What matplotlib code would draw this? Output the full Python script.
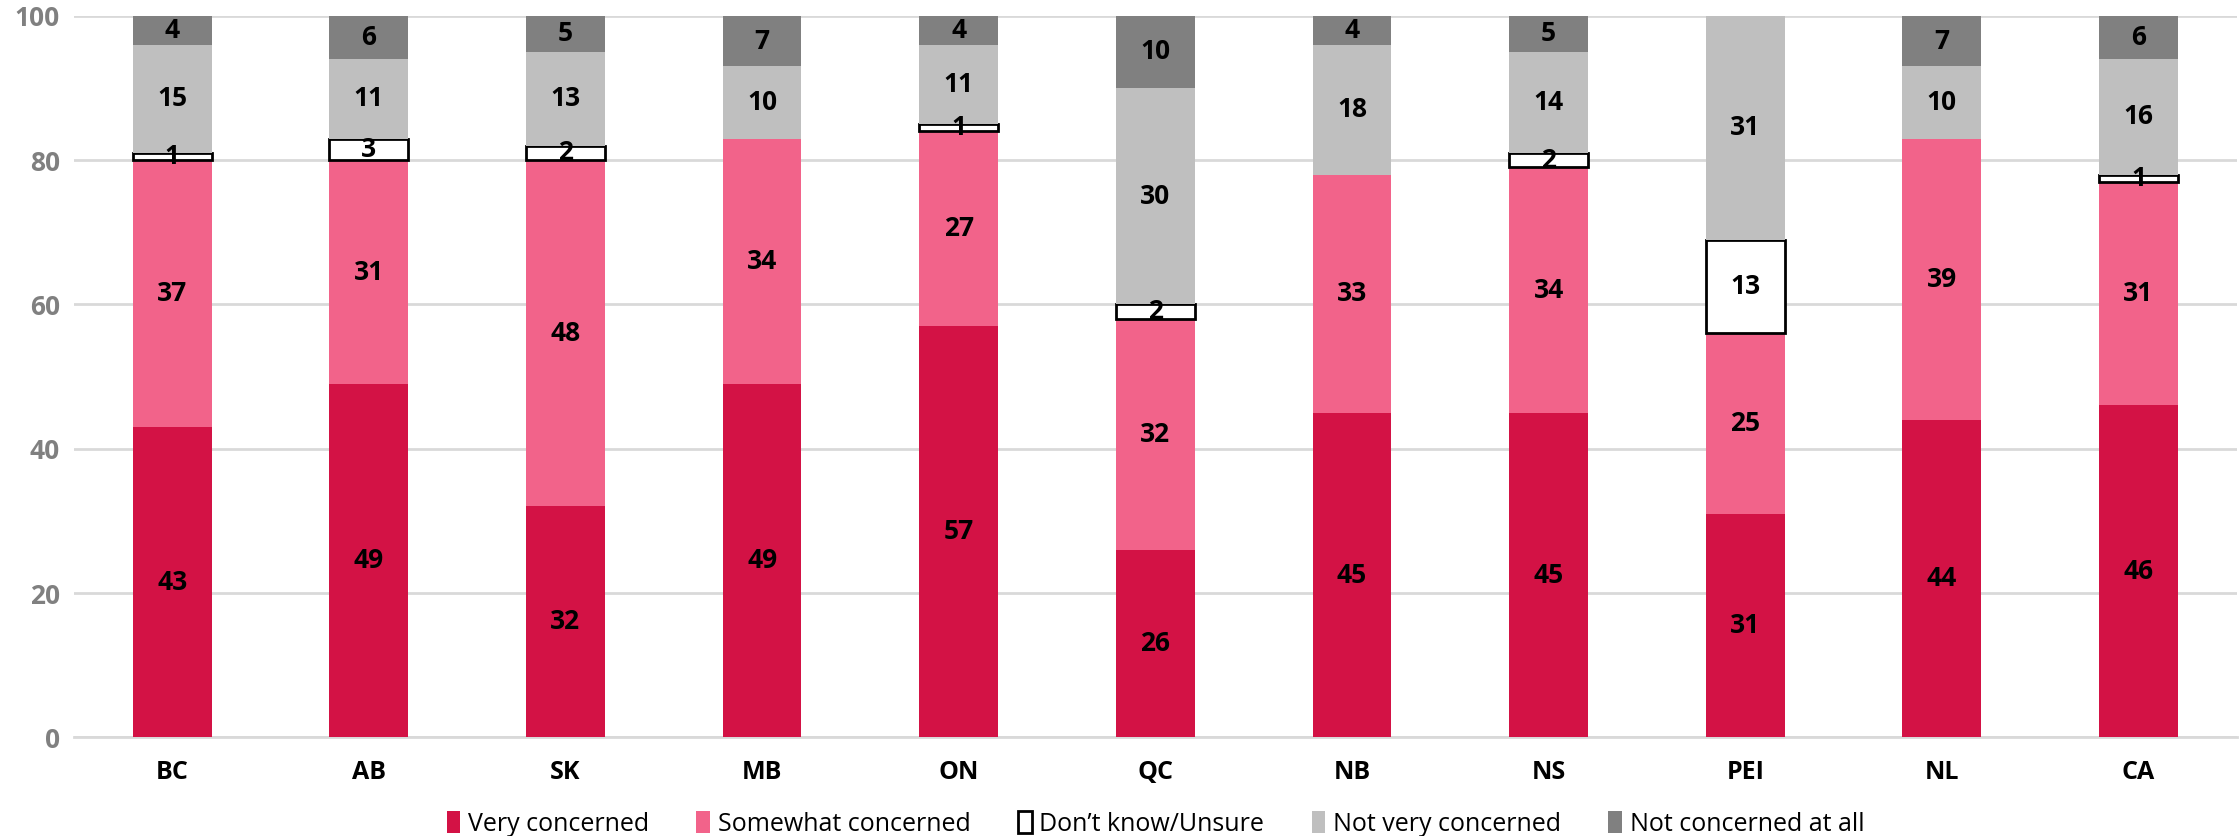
import numpy as np
import matplotlib.pyplot as plt

regions = ['BC', 'AB', 'SK', 'MB', 'ON', 'QC', 'NB', 'NS', 'PEI', 'NL', 'CA']
very = [43, 49, 32, 49, 57, 26, 45, 45, 31, 44, 46]
somewhat = [37, 31, 48, 34, 27, 32, 33, 34, 25, 39, 31]
unsure = [1, 3, 2, 0, 1, 2, 0, 2, 13, 0, 1]
not_very = [15, 11, 13, 10, 11, 30, 18, 14, 31, 10, 16]
not_at_all = [4, 6, 5, 7, 4, 10, 4, 5, 0, 7, 6]

series = [
    ('Very concerned', very, '#D31245', 'none'),
    ('Somewhat concerned', somewhat, '#F2638A', 'none'),
    ('Don\u2019t know/Unsure', unsure, 'white', 'black'),
    ('Not very concerned', not_very, '#BFBFBF', 'none'),
    ('Not concerned at all', not_at_all, '#808080', 'none'),
]

plt.rcParams['font.family'] = ['Open Sans', 'DejaVu Sans']

fig = plt.figure(figsize=(22.39, 8.36), dpi=100)
ax = fig.add_axes([0.033, 0.118, 0.966, 0.863])

x = np.arange(len(regions))
bottom = np.zeros(len(regions))
for name, vals, color, edge in series:
    vals = np.array(vals, dtype=float)
    lw = 2 if edge != 'none' else 0
    edges = [edge if v > 0 else 'none' for v in vals]
    ax.bar(x, vals, 0.4, bottom=bottom, color=color, edgecolor=edges,
           linewidth=lw, label=name, zorder=3)
    for xi, b, v in zip(x, bottom, vals):
        if v > 0:
            ax.text(xi, b + v / 2, f'{int(v)}', ha='center', va='center',
                    fontsize=19, fontweight='bold', color='black', zorder=4)
    bottom += vals

ax.set_xlim(-0.5, len(regions) - 0.5)
ax.set_ylim(0, 100)
ax.set_yticks([0, 20, 40, 60, 80, 100])
ax.set_xticks(x)
ax.set_xticklabels(regions, fontsize=18, fontweight='bold')
ax.tick_params(axis='y', labelsize=19, labelcolor='#808080', length=0, pad=10)
for lab in ax.get_yticklabels():
    lab.set_fontweight('bold')
ax.tick_params(axis='x', length=0, pad=16)
ax.grid(axis='y', color='#D9D9D9', linewidth=2, zorder=0)
for s in ['top', 'right', 'left']:
    ax.spines[s].set_visible(False)
ax.spines['bottom'].set_color('#D9D9D9')
ax.spines['bottom'].set_linewidth(2)

ax.legend(loc='center', bbox_to_anchor=(0.5, -0.12), ncol=5,
          frameon=False, fontsize=18, handlelength=0.55, handleheight=1.0,
          handletextpad=0.3, columnspacing=1.9)

fig.savefig('out.png', dpi=100)
